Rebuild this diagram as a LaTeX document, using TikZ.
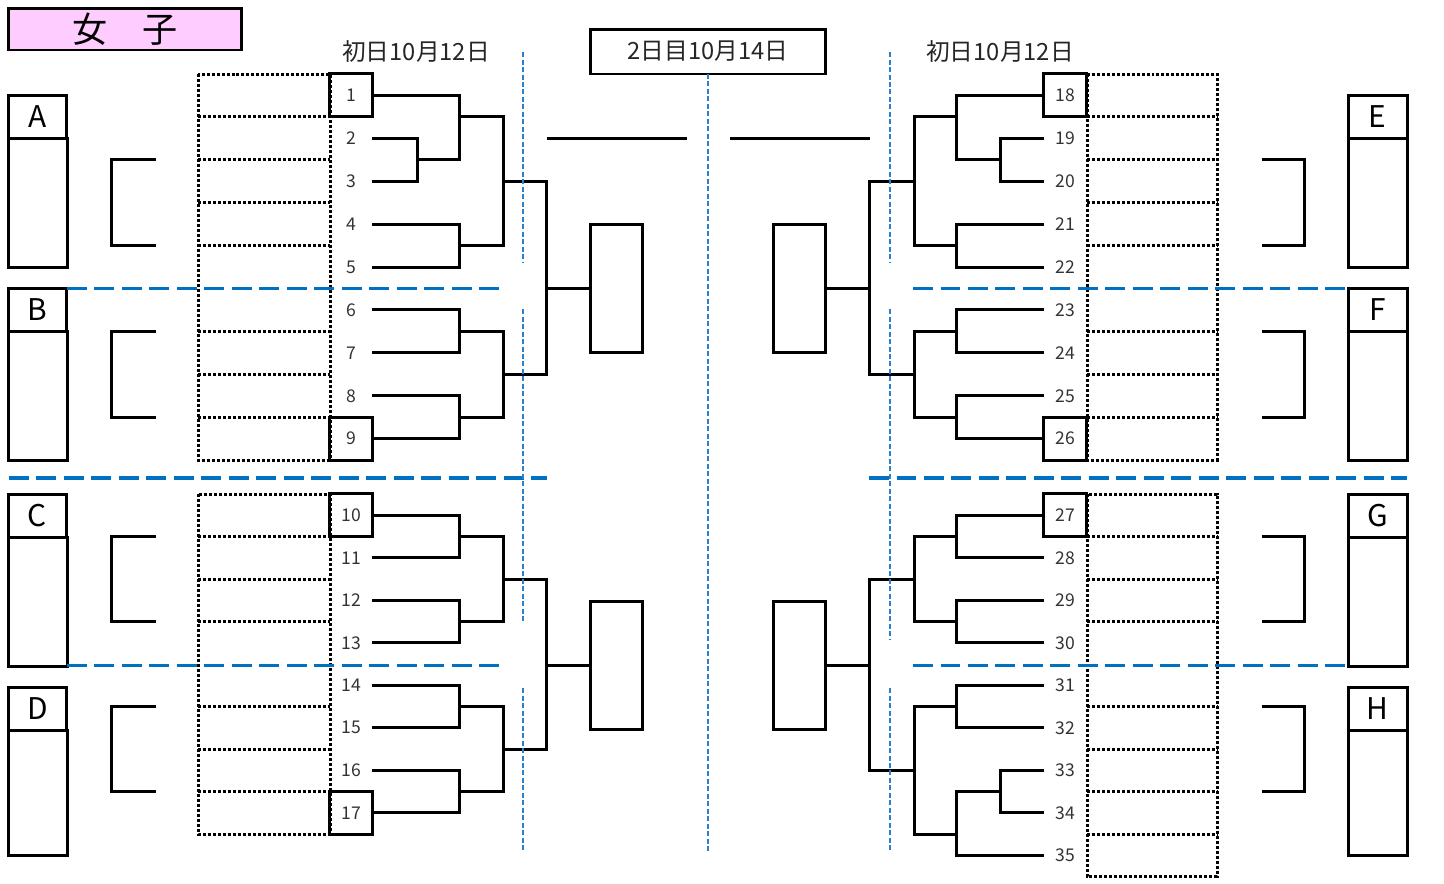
\documentclass[tikz,border=0pt]{standalone}
\usepackage{fontspec}
\setmainfont{Noto Sans CJK JP}
\definecolor{titlepink}{HTML}{FFCCFF}
\definecolor{zoneblue}{HTML}{0070C0}
\definecolor{dayblue}{HTML}{2A7FCF}
\tikzset{
  line/.style={line width=0.06cm},
  frame/.style={draw, line width=0.06cm, inner sep=0pt, outer sep=0pt},
  numcell/.style={inner sep=0pt, outer sep=0pt, minimum width=0.86cm, minimum height=0.86cm,
    font=\fontsize{10}{10}\selectfont, text=black!80},
  grouphead/.style={frame, minimum width=1.18cm, minimum height=0.86cm, font=\fontsize{17}{17}\selectfont},
  finalbox/.style={frame, minimum width=1.04cm, minimum height=2.58cm},
  cell/.style={line width=0.06cm, dash pattern=on 0.06cm off 0.04cm},
  zone/.style={zoneblue, line width=0.075cm, dash pattern=on 0.4cm off 0.15cm},
  dayline/.style={dayblue, line width=0.04cm, dash pattern=on 0.1cm off 0.05cm},
  daylabel/.style={font=\fontsize{13.5}{13.5}\selectfont, text=black!85},
}
\begin{document}
\begin{tikzpicture}[x=0.02cm, y=-0.02cm]
\useasboundingbox (0,0) rectangle (1444,883);
% headings
\node[frame, fill=titlepink, minimum width=4.68cm, minimum height=0.84cm, font=\fontsize{20}{20}\selectfont] (title) at (125,29) {女　子};
\node[daylabel] (day1L) at (416,51) {初日10月12日};
\node[daylabel] (day1R) at (1000,51) {初日10月12日};
\node[frame, daylabel, minimum width=4.72cm, minimum height=0.9cm] (day2) at (708,51.5) {2日目10月14日};
% group boxes
\foreach \g/\gx/\gy/\gh in {A/37.5/116.5/129, B/37.5/309.5/129, C/37.5/515.5/129, D/37.5/708.5/125,
    E/1377.5/116.5/129, F/1377.5/309.5/129, G/1377.5/515.5/129, H/1377.5/708.5/125} {
  \node[grouphead] (g\g) at (\gx,\gy) {\g};
  \draw[line] (g\g.south west) rectangle ++(59,\gh);
}
\foreach \ya/\yb in {159.8/245.6, 331.4/417.2, 536.5/621.5, 706.5/791.5} {
  \draw[line] (156,\ya) -| (111,\yb) -- (156,\yb);
  \draw[line] (1261.5,\ya) -| (1304.7,\yb) -- (1261.5,\yb);
}
% name cells
\draw[cell] (198,74) rectangle (330,460.1);
\draw[cell] (198,494) rectangle (330,834);
\draw[cell] (1087,74) rectangle (1217,460.1);
\draw[cell] (1087,494) rectangle (1217,876.5);
\foreach \k in {1,2,3,4,6,7,8} {
  \draw[cell] (198,{74+42.9*\k}) -- (330,{74+42.9*\k});
  \draw[cell] (1087,{74+42.9*\k}) -- (1217,{74+42.9*\k});
}
\foreach \k in {1,2,3,5,6,7} \draw[cell] (198,{494+42.5*\k}) -- (330,{494+42.5*\k});
\foreach \k in {1,2,3,5,6,7,8} \draw[cell] (1087,{494+42.5*\k}) -- (1217,{494+42.5*\k});
% draw numbers
\foreach \i in {1,...,9} \node[numcell] (n\i) at (351,{95.45+42.9*(\i-1)}) {\i};
\foreach \i in {10,...,17} \node[numcell] (n\i) at (351,{515.25+42.5*(\i-10)}) {\i};
\foreach \i in {18,...,26} \node[numcell] (n\i) at (1065,{95.45+42.9*(\i-18)}) {\i};
\foreach \i in {27,...,35} \node[numcell] (n\i) at (1065,{515.25+42.5*(\i-27)}) {\i};
\foreach \i in {1,9,10,17,18,26,27} \draw[line] (n\i.north west) rectangle (n\i.south east);
% final boxes
\node[finalbox] (fL1) at (616,288.5) {};
\node[finalbox] (fL2) at (616,665.5) {};
\node[finalbox] (fR1) at (799.5,288.5) {};
\node[finalbox] (fR2) at (799.5,665.5) {};
\draw[line] (547,138) -- (687,138);
\draw[line] (730,138) -- (870,138);
% left bracket A, B
\coordinate (j23) at (417,159.8);
\coordinate (j13) at (459.6,116.9);
\coordinate (j45) at (459.6,245.6);
\coordinate (jA) at (503.6,181.3);
\coordinate (j67) at (459.6,331.4);
\coordinate (j89) at (459.6,417.2);
\coordinate (jB) at (503.6,374.3);
\coordinate (jAB) at (546,288.5);
\draw[line] (n2.east) -| (j23) |- (n3.east);
\draw[line] (n1.east) -| (j13) |- (j23);
\draw[line] (n4.east) -| (j45) |- (n5.east);
\draw[line] (j13) -| (jA) |- (j45);
\draw[line] (n6.east) -| (j67) |- (n7.east);
\draw[line] (n8.east) -| (j89) |- (n9.east);
\draw[line] (j67) -| (jB) |- (j89);
\draw[line] (jA) -| (jAB) |- (jB);
\draw[line] (jAB) -- (fL1.west);
% left bracket C, D
\coordinate (j1011) at (459.6,536.5);
\coordinate (j1213) at (459.6,621.5);
\coordinate (jC) at (503.6,579);
\coordinate (j1415) at (459.6,706.5);
\coordinate (j1617) at (459.6,791.5);
\coordinate (jD) at (503.6,749);
\coordinate (jCD) at (546,665.5);
\draw[line] (n10.east) -| (j1011) |- (n11.east);
\draw[line] (n12.east) -| (j1213) |- (n13.east);
\draw[line] (j1011) -| (jC) |- (j1213);
\draw[line] (n14.east) -| (j1415) |- (n15.east);
\draw[line] (n16.east) -| (j1617) |- (n17.east);
\draw[line] (j1415) -| (jD) |- (j1617);
\draw[line] (jC) -| (jCD) |- (jD);
\draw[line] (jCD) -- (fL2.west);
% right bracket E, F
\coordinate (j1920) at (1000,159.8);
\coordinate (j18) at (956,116.9);
\coordinate (j2122) at (956,245.6);
\coordinate (jE) at (914,181.3);
\coordinate (j2324) at (956,331.4);
\coordinate (j2526) at (956,417.2);
\coordinate (jF) at (914,374.3);
\coordinate (jEF) at (869,288.5);
\draw[line] (n19.west) -| (j1920) |- (n20.west);
\draw[line] (n18.west) -| (j18) |- (j1920);
\draw[line] (n21.west) -| (j2122) |- (n22.west);
\draw[line] (j18) -| (jE) |- (j2122);
\draw[line] (n23.west) -| (j2324) |- (n24.west);
\draw[line] (n25.west) -| (j2526) |- (n26.west);
\draw[line] (j2324) -| (jF) |- (j2526);
\draw[line] (jE) -| (jEF) |- (jF);
\draw[line] (jEF) -- (fR1.east);
% right bracket G, H
\coordinate (j2728) at (956,536.5);
\coordinate (j2930) at (956,621.5);
\coordinate (jG) at (914,579);
\coordinate (j3132) at (956,706.5);
\coordinate (j3334) at (1000,791.5);
\coordinate (j3335) at (956,834);
\coordinate (jH) at (914,770.3);
\coordinate (jGH) at (869,665.5);
\draw[line] (n27.west) -| (j2728) |- (n28.west);
\draw[line] (n29.west) -| (j2930) |- (n30.west);
\draw[line] (j2728) -| (jG) |- (j2930);
\draw[line] (n31.west) -| (j3132) |- (n32.west);
\draw[line] (n33.west) -| (j3334) |- (n34.west);
\draw[line] (j3334) -| (j3335) |- (n35.west);
\draw[line] (j3132) -| (jH) |- (j3335);
\draw[line] (jG) -| (jGH) |- (jH);
\draw[line] (jGH) -- (fR2.east);
% zone lines
\draw[zone] (67,288.5) -- (503.6,288.5);
\draw[zone] (9,477.7) -- (547,477.7);
\draw[zone] (67,665.5) -- (503.6,665.5);
\draw[zone] (913,288.5) -- (1348,288.5);
\draw[zone] (869,477.7) -- (1407,477.7);
\draw[zone] (913,665.5) -- (1348,665.5);
% day lines
\draw[dayline] (523,52) -- (523,262);
\draw[dayline] (523,309) -- (523,621);
\draw[dayline] (523,688) -- (523,852);
\draw[dayline] (day2.south) -- (708,852);
\draw[dayline] (890,52) -- (890,262);
\draw[dayline] (890,309) -- (890,640);
\draw[dayline] (890,688) -- (890,852);
\end{tikzpicture}
\end{document}
